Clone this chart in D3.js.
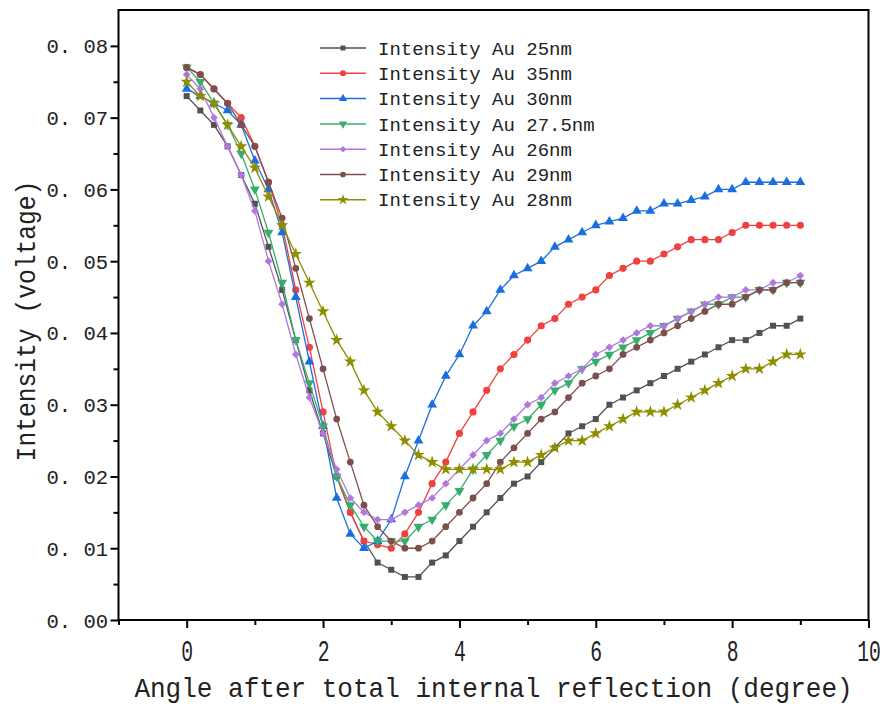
<!DOCTYPE html>
<html>
<head>
<meta charset="utf-8">
<script src="https://cdn.jsdelivr.net/npm/d3@7"></script>
<style>
  body { margin: 0; background: #fff; }
  text { font-family: "Liberation Mono", "DejaVu Sans Mono", monospace; fill: #222; }
</style>
</head>
<body>
<div id="chart"></div>
<script>
// angle (degree), same for all series
var angles = [0, 0.2, 0.4, 0.6, 0.8, 1.0, 1.2, 1.4, 1.6, 1.8, 2.0, 2.2, 2.4, 2.6, 2.8, 3.0,
  3.2, 3.4, 3.6, 3.8, 4.0, 4.2, 4.4, 4.6, 4.8, 5.0, 5.2, 5.4, 5.6, 5.8, 6.0, 6.2, 6.4, 6.6,
  6.8, 7.0, 7.2, 7.4, 7.6, 7.8, 8.0, 8.2, 8.4, 8.6, 8.8, 9.0];

var au25 = [.073, .071, .069, .066, .062, .058, .052, .046, .039, .032, .026, .020, .015, .011, .008, .007,
  .006, .006, .008, .009, .011, .013, .015, .017, .019, .020, .022, .024, .026, .027, .028, .030, .031, .032,
  .033, .034, .035, .036, .037, .038, .039, .039, .040, .041, .041, .042];
var au35 = [.077, .076, .074, .072, .070, .066, .061, .055, .046, .038, .029, .020, .015, .011, .0105, .010,
  .012, .015, .019, .022, .026, .029, .032, .035, .037, .039, .041, .042, .044, .045, .046, .048, .049, .050,
  .050, .051, .052, .053, .053, .053, .054, .055, .055, .055, .055, .055];
var au30 = [.074, .073, .072, .071, .069, .064, .060, .054, .045, .036, .027, .017, .012, .010, .011, .014,
  .020, .025, .030, .034, .037, .041, .043, .046, .048, .049, .050, .052, .053, .054, .055, .0555, .056, .057,
  .057, .058, .058, .0585, .059, .060, .060, .061, .061, .061, .061, .061];
var au275 = [.077, .075, .072, .069, .065, .060, .054, .047, .039, .033, .027, .020, .016, .013, .011, .011,
  .011, .013, .014, .016, .018, .021, .023, .025, .027, .028, .030, .032, .033, .035, .036, .037, .038, .039,
  .040, .041, .042, .043, .044, .044, .045, .045, .046, .046, .047, .047];
var au26 = [.076, .074, .070, .066, .062, .057, .050, .044, .037, .031, .026, .021, .017, .015, .014, .014,
  .015, .016, .017, .019, .021, .023, .025, .026, .028, .030, .031, .033, .034, .035, .037, .038, .039, .040,
  .041, .041, .042, .043, .044, .045, .045, .046, .046, .047, .047, .048];
var au29 = [.077, .076, .074, .072, .069, .066, .061, .056, .049, .042, .035, .028, .022, .016, .013, .011,
  .010, .010, .011, .013, .015, .017, .019, .022, .024, .026, .028, .029, .031, .033, .034, .035, .037, .038,
  .039, .040, .041, .042, .043, .044, .044, .045, .046, .046, .047, .047];
var au28 = [.075, .073, .072, .069, .066, .063, .059, .055, .051, .047, .043, .039, .036, .032, .029, .027,
  .025, .023, .022, .021, .021, .021, .021, .021, .022, .022, .023, .024, .025, .025, .026, .027, .028, .029,
  .029, .029, .030, .031, .032, .033, .034, .035, .035, .036, .037, .037];

var seriesNames = ['Intensity Au 25nm', 'Intensity Au 35nm', 'Intensity Au 30nm', 'Intensity Au 27.5nm',
  'Intensity Au 26nm', 'Intensity Au 29nm', 'Intensity Au 28nm'];
var seriesValues = [au25, au35, au30, au275, au26, au29, au28];
var colors = ['#515151', '#F14040', '#1A6FDF', '#37AD6B', '#B177DE', '#7D4E4E', '#8E8E00'];

var xMajor = [0, 2, 4, 6, 8, 10];
var xMinor = [-1, 1, 3, 5, 7, 9];
var yMajor = [0, 0.01, 0.02, 0.03, 0.04, 0.05, 0.06, 0.07, 0.08];
var yMinor = [0.005, 0.015, 0.025, 0.035, 0.045, 0.055, 0.065, 0.075];

var W = 885, H = 709;
var margin = { left: 118.5, right: 16.5, top: 10, bottom: 89 };

var svg = d3.select('#chart').append('svg')
  .attr('width', W).attr('height', H)
  .attr('viewBox', [0, 0, W, H]);

var x = d3.scaleLinear().domain([-1, 10]).range([margin.left, W - margin.right]);
var y = d3.scaleLinear().domain([0, 0.085]).range([H - margin.bottom, margin.top]);

// axes
var xAxis = d3.axisBottom(x).tickValues(xMajor).tickSize(8).tickPadding(12)
  .tickFormat(d3.format('d'));
var yAxis = d3.axisLeft(y).tickValues(yMajor).tickSize(8).tickPadding(2)
  .tickFormat(function (d) { return d.toFixed(2).replace('.', '. '); });

var gx = svg.append('g').attr('transform', 'translate(0,' + y(0) + ')').call(xAxis);
var gy = svg.append('g').attr('transform', 'translate(' + x(-1) + ',0)').call(yAxis);

svg.append('g').attr('transform', 'translate(0,' + y(0) + ')')
  .call(d3.axisBottom(x).tickValues(xMinor).tickSize(5).tickFormat(''));
svg.append('g').attr('transform', 'translate(' + x(-1) + ',0)')
  .call(d3.axisLeft(y).tickValues(yMinor).tickSize(5).tickFormat(''));

svg.selectAll('.domain').remove();
svg.selectAll('.tick line').attr('stroke', '#000').attr('stroke-width', 2);

// tall narrow digits like the original
gx.selectAll('.tick text')
  .attr('font-size', 29)
  .attr('transform', 'scale(0.68,1)');
gy.selectAll('.tick text')
  .attr('font-size', 20)
  .attr('dy', '0.35em')
  .attr('transform', 'scale(1.03,1)');

// frame
svg.append('rect')
  .attr('x', x(-1)).attr('y', y(0.085))
  .attr('width', x(10) - x(-1)).attr('height', y(0) - y(0.085))
  .attr('fill', 'none').attr('stroke', '#000').attr('stroke-width', 2);

// axis titles
var midX = (x(-1) + x(10)) / 2;
svg.append('text')
  .attr('transform', 'translate(' + midX + ',697) scale(0.93,1)')
  .attr('text-anchor', 'middle')
  .attr('font-size', 28)
  .text('Angle after total internal reflection (degree)');

svg.append('text')
  .attr('transform', 'translate(35,321) rotate(-90) scale(0.88,1)')
  .attr('text-anchor', 'middle')
  .attr('font-size', 28)
  .text('Intensity (voltage)');

// markers
var shapes = [d3.symbolSquare, d3.symbolCircle, d3.symbolTriangle, d3.symbolTriangle,
  d3.symbolSquare, d3.symbolCircle, d3.symbolStar];
var sizes = [36, 40, 42, 42, 30, 36, 50];
var rotations = [0, 0, 0, 180, 45, 0, 0];

var line = d3.line()
  .x(function (d) { return x(d[0]); })
  .y(function (d) { return y(d[1]); });

seriesValues.forEach(function (vals, i) {
  var pts = angles.map(function (a, j) { return [a, vals[j]]; });
  var g = svg.append('g').attr('class', 'series');
  g.append('path')
    .attr('d', line(pts))
    .attr('fill', 'none')
    .attr('stroke', colors[i])
    .attr('stroke-width', 1.3);
  g.selectAll('path.pt').data(pts).enter().append('path')
    .attr('class', 'pt')
    .attr('d', d3.symbol().type(shapes[i]).size(sizes[i]))
    .attr('transform', function (d) {
      return 'translate(' + x(d[0]) + ',' + y(d[1]) + ') rotate(' + rotations[i] + ')';
    })
    .attr('fill', colors[i]);
});

// legend
var legend = svg.append('g').attr('transform', 'translate(320,48)');
seriesNames.forEach(function (name, i) {
  var row = legend.append('g').attr('transform', 'translate(0,' + (i * 25.3) + ')');
  row.append('line')
    .attr('x1', 0).attr('x2', 46).attr('y1', 0).attr('y2', 0)
    .attr('stroke', colors[i]).attr('stroke-width', 1.5);
  row.append('path')
    .attr('d', d3.symbol().type(shapes[i]).size(sizes[i] * 0.7))
    .attr('transform', 'translate(23,0) rotate(' + rotations[i] + ')')
    .attr('fill', colors[i]);
  row.append('text')
    .attr('x', 58).attr('y', 0).attr('dy', '0.35em')
    .attr('font-size', 19)
    .text(name);
});
</script>
</body>
</html>
